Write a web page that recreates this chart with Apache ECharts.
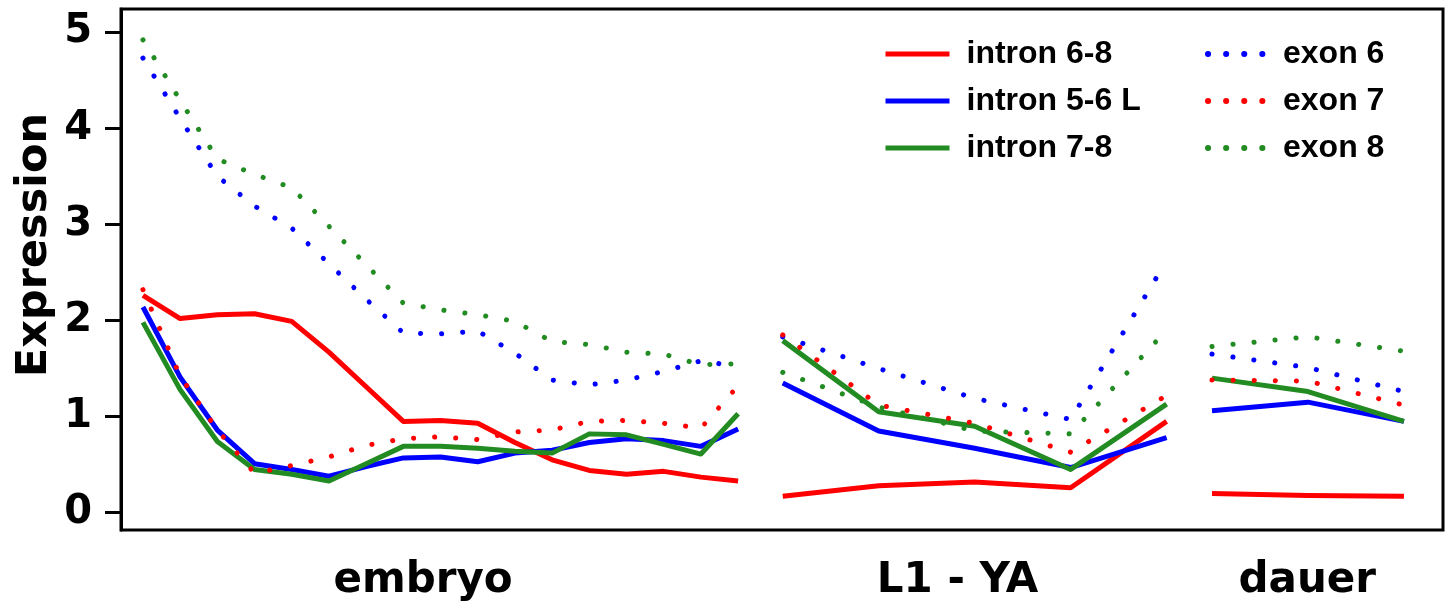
<!DOCTYPE html>
<html>
<head>
<meta charset="utf-8">
<script src="https://cdn.jsdelivr.net/npm/echarts@6/dist/echarts.min.js"></script>
<style>
  html, body { margin: 0; padding: 0; background: #ffffff; }
  #chart { width: 1452px; height: 607px; }
</style>
</head>
<body>
<div id="chart"></div>
<script>
// Developmental stages and probe names
const stages = ['embryo', 'L1 - YA', 'dauer'];
const probeNames = ['intron 6-8', 'intron 5-6 L', 'intron 7-8', 'exon 6', 'exon 7', 'exon 8'];
const yTicks = [0, 1, 2, 3, 4, 5];

// Expression, embryo time course (17 samples)
const intron68Embryo  = [2.26, 2.02, 2.06, 2.07, 1.99, 1.67, 1.31, 0.95, 0.96, 0.93, 0.73, 0.55, 0.44, 0.40, 0.43, 0.37, 0.33];
const intron56Embryo  = [2.14, 1.41, 0.86, 0.51, 0.45, 0.38, 0.48, 0.57, 0.58, 0.53, 0.62, 0.65, 0.73, 0.77, 0.75, 0.69, 0.87];
const intron78Embryo  = [1.98, 1.28, 0.74, 0.45, 0.40, 0.33, 0.51, 0.69, 0.69, 0.67, 0.64, 0.62, 0.82, 0.81, 0.71, 0.61, 1.03];
const exon6Embryo     = [4.73, 4.10, 3.50, 3.19, 2.96, 2.59, 2.22, 1.87, 1.86, 1.89, 1.66, 1.38, 1.33, 1.38, 1.47, 1.58, 1.52];
const exon7Embryo     = [2.32, 1.42, 0.86, 0.41, 0.49, 0.58, 0.70, 0.77, 0.79, 0.76, 0.84, 0.86, 0.95, 0.96, 0.93, 0.88, 1.32];
const exon8Embryo     = [4.92, 4.29, 3.68, 3.52, 3.38, 2.98, 2.58, 2.18, 2.11, 2.06, 1.99, 1.78, 1.75, 1.67, 1.65, 1.54, 1.55];

// Expression, larval L1 to young adult (5 samples)
const intron68L1YA = [0.17, 0.28, 0.32, 0.26, 0.95];
const intron56L1YA = [1.35, 0.85, 0.67, 0.47, 0.78];
const intron78L1YA = [1.79, 1.05, 0.90, 0.45, 1.13];
const exon6L1YA    = [1.83, 1.50, 1.19, 0.97, 2.62];
const exon7L1YA    = [1.85, 1.12, 0.93, 0.63, 1.22];
const exon8L1YA    = [1.46, 1.10, 0.85, 0.82, 1.90];

// Expression, dauer (3 samples)
const intron68Dauer = [0.20, 0.18, 0.17];
const intron56Dauer = [1.06, 1.15, 0.95];
const intron78Dauer = [1.40, 1.26, 0.95];
const exon6Dauer    = [1.65, 1.51, 1.26];
const exon7Dauer    = [1.38, 1.37, 1.12];
const exon8Dauer    = [1.73, 1.83, 1.68];

// Sample layout along x: embryo samples one unit apart, later stages wider apart
const stageLayout = [
  { start: 0,     step: 1 },
  { start: 17.2,  step: 2.58 },
  { start: 28.74, step: 2.58 }
];
const stageLabelPos = [7.53, 21.9, 31.3];

function buildSeriesData(groups) {
  const out = [];
  groups.forEach((vals, g) => {
    const lay = stageLayout[g];
    vals.forEach((v, i) => out.push([lay.start + lay.step * i, v]));
    if (g < groups.length - 1) {
      const lastX = lay.start + lay.step * (vals.length - 1);
      out.push([(lastX + stageLayout[g + 1].start) / 2, '-']);
    }
  });
  return out;
}

const probeData = [
  [intron68Embryo, intron68L1YA, intron68Dauer],
  [intron56Embryo, intron56L1YA, intron56Dauer],
  [intron78Embryo, intron78L1YA, intron78Dauer],
  [exon6Embryo, exon6L1YA, exon6Dauer],
  [exon7Embryo, exon7L1YA, exon7Dauer],
  [exon8Embryo, exon8L1YA, exon8Dauer]
];
const probeColors = ['#ff0000', '#0000ff', '#228b22', '#0000ff', '#ff0000', '#228b22'];
const dotted = [false, false, false, true, true, true];

const series = probeNames.map((name, k) => ({
  name: name,
  type: 'line',
  data: buildSeriesData(probeData[k]),
  symbol: 'none',
  showSymbol: false,
  connectNulls: false,
  smooth: false,
  z: dotted[k] ? 3 : 2,
  color: probeColors[k],
  lineStyle: dotted[k]
    ? { color: probeColors[k], width: 5, type: [0.1, 21], cap: 'round' }
    : { color: probeColors[k], width: 5, type: 'solid', cap: 'butt', join: 'round' },
  emphasis: { disabled: true }
}));

const axisFont = '"DejaVu Sans", "Liberation Sans", sans-serif';
const legendFont = '"Liberation Sans", Arial, sans-serif';

const chart = echarts.init(document.getElementById('chart'), null, { renderer: 'canvas' });
chart.setOption({
  animation: false,
  backgroundColor: '#ffffff',
  grid: {
    left: 121, right: 9, top: 9, bottom: 77,
    show: true, borderColor: '#000000', borderWidth: 3, backgroundColor: 'transparent'
  },
  xAxis: {
    type: 'value',
    min: -0.59, max: 34.95,
    axisLine: { show: false },
    axisTick: { show: false },
    splitLine: { show: false },
    axisLabel: {
      customValues: stageLabelPos,
      margin: 30,
      fontFamily: axisFont, fontWeight: 'bold', fontSize: 42, color: '#000000',
      formatter: (val) => {
        let best = 0;
        stageLabelPos.forEach((p, i) => { if (Math.abs(p - val) < Math.abs(stageLabelPos[best] - val)) best = i; });
        return stages[best];
      }
    }
  },
  yAxis: {
    type: 'value',
    min: -0.18, max: 5.24,
    axisLine: { show: true, onZero: false, lineStyle: { color: '#000000', width: 3 } },
    axisTick: { show: true, customValues: yTicks, length: 16, lineStyle: { color: '#000000', width: 3 } },
    splitLine: { show: false },
    axisLabel: {
      customValues: yTicks,
      margin: 29,
      fontFamily: axisFont, fontWeight: 'bold', fontSize: 40, color: '#000000'
    }
  },
  legend: [
    {
      data: probeNames.slice(0, 3),
      orient: 'vertical',
      left: 883, top: 37,
      padding: 0,
      itemWidth: 64, itemHeight: 14, itemGap: 13,
      selectedMode: false,
      itemStyle: { opacity: 0 },
      lineStyle: { width: 5, type: 'solid', cap: 'butt' },
      textStyle: { fontFamily: legendFont, fontWeight: 'bold', fontSize: 32, color: '#000000', lineHeight: 34, padding: [0, 0, 0, 12] }
    },
    {
      data: probeNames.slice(3),
      orient: 'vertical',
      left: 1205, top: 37,
      padding: 0,
      itemWidth: 56, itemHeight: 14, itemGap: 13,
      selectedMode: false,
      itemStyle: { opacity: 0 },
      lineStyle: { width: 6, type: [0.1, 18], cap: 'round' },
      textStyle: { fontFamily: legendFont, fontWeight: 'bold', fontSize: 32, color: '#000000', lineHeight: 34, padding: [0, 0, 0, 14] }
    }
  ],
  graphic: [
    {
      type: 'text',
      x: 35, y: 245,
      rotation: Math.PI / 2,
      style: {
        text: 'Expression',
        font: 'bold 43px "DejaVu Sans", sans-serif',
        fill: '#000000',
        textAlign: 'center',
        textVerticalAlign: 'middle'
      }
    }
  ],
  series: series
});
</script>
</body>
</html>
